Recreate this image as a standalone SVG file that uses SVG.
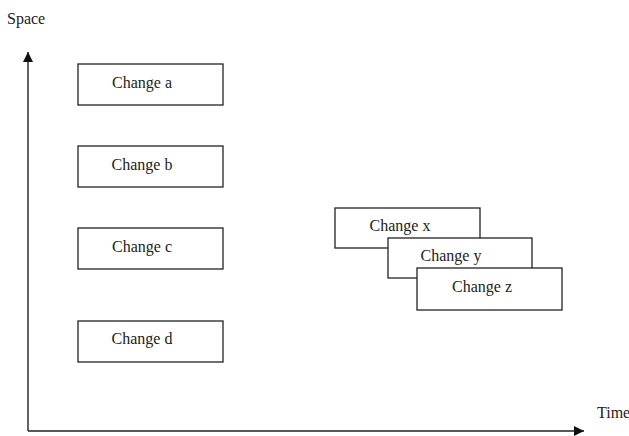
<svg xmlns="http://www.w3.org/2000/svg" width="629" height="436" viewBox="0 0 629 436">
<style>
.box{fill:#fff;stroke:#222;stroke-width:1.3}
.lbl{font-family:"Liberation Serif",serif;font-size:16px;fill:#222;text-anchor:middle}
.ax{font-family:"Liberation Serif",serif;font-size:16px;fill:#222}
.axis{stroke:#222;stroke-width:1.4;fill:none}
</style>
<defs>
<marker id="ah" viewBox="0 0 10 10" refX="10" refY="5" markerWidth="10" markerHeight="10" markerUnits="userSpaceOnUse" orient="auto">
<path d="M0,0 L10,5 L0,10 Z" fill="#111"/>
</marker>
</defs>
<rect width="629" height="436" fill="#fff"/>
<g id="connectors">
<path class="axis" d="M28,431 L28,52" marker-end="url(#ah)"/>
<path class="axis" d="M28,431 L584,431" marker-end="url(#ah)"/>
</g>
<text class="ax" x="7" y="24">Space</text>
<text class="ax" x="597" y="418">Time</text>
<g id="change-a"><rect class="box" x="78" y="64" width="145" height="41"/><text class="lbl" x="142" y="88">Change a</text></g>
<g id="change-b"><rect class="box" x="78" y="146" width="145" height="41"/><text class="lbl" x="142" y="170">Change b</text></g>
<g id="change-c"><rect class="box" x="78" y="228" width="145" height="41"/><text class="lbl" x="142" y="252">Change c</text></g>
<g id="change-d"><rect class="box" x="78" y="321" width="145" height="41"/><text class="lbl" x="142" y="344">Change d</text></g>
<g id="change-x"><rect class="box" x="335" y="208" width="145" height="40"/><text class="lbl" x="400" y="231">Change x</text></g>
<g id="change-y"><rect class="box" x="388" y="238" width="144" height="40"/><text class="lbl" x="451" y="261">Change y</text></g>
<g id="change-z"><rect class="box" x="417" y="268" width="145" height="42"/><text class="lbl" x="482" y="292">Change z</text></g>
</svg>
